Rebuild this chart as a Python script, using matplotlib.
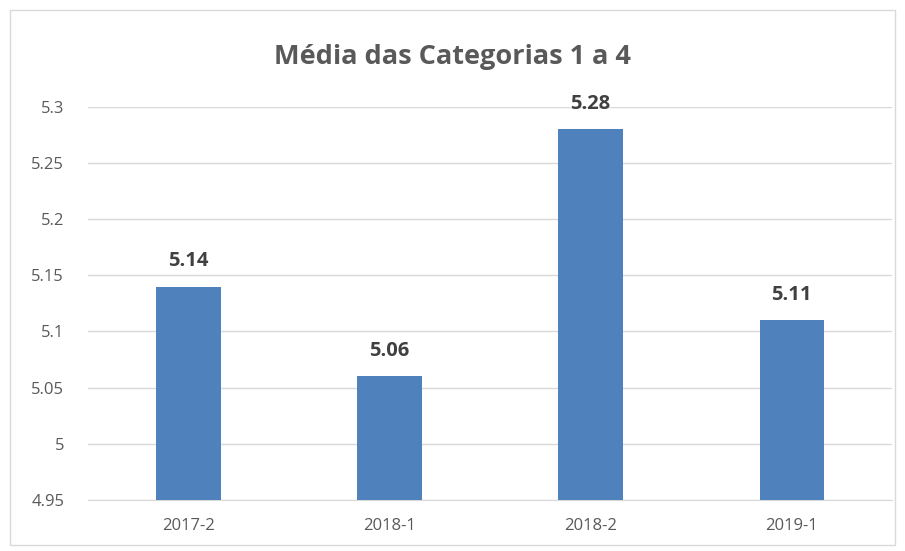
import matplotlib.pyplot as plt
from matplotlib.patches import Rectangle

periods = ["2017-2", "2018-1", "2018-2", "2019-1"]
means = [5.14, 5.06, 5.28, 5.11]
yticks = [4.95, 5.0, 5.05, 5.1, 5.15, 5.2, 5.25, 5.3]
ytick_labels = ["4.95", "5", "5.05", "5.1", "5.15", "5.2", "5.25", "5.3"]

plt.rcParams["font.family"] = ["Open Sans", "DejaVu Sans"]

fig = plt.figure(figsize=(9.05, 5.51), dpi=100)
fig.patches.append(Rectangle((0.011, 0.01), 0.978, 0.972, transform=fig.transFigure,
                             fill=False, edgecolor="#d9d9d9", linewidth=1))
ax = fig.add_axes([0.097, 0.0926, 0.889, 0.7135])

x = range(len(periods))
ax.bar(x, means, width=0.32, color="#4f81bd", zorder=3)
for i, v in zip(x, means):
    ax.text(i, v + 0.0135, f"{v:.2f}", ha="center", va="bottom",
            fontsize=14.5, fontweight="bold", color="#404040")

ax.set_ylim(4.95, 5.3)
ax.set_xlim(-0.5, len(periods) - 0.5)
ax.set_yticks(yticks)
ax.set_yticklabels(ytick_labels)
ax.set_xticks(list(x))
ax.set_xticklabels(periods)
ax.tick_params(axis="both", length=0, labelsize=12, labelcolor="#595959")
ax.tick_params(axis="y", pad=17)
ax.tick_params(axis="x", pad=13)
ax.grid(axis="y", color="#d9d9d9", linewidth=1, zorder=0)
for side in ["top", "right", "left"]:
    ax.spines[side].set_visible(False)
ax.spines["bottom"].set_color("#d9d9d9")

fig.text(0.5, 0.897, "Média das Categorias 1 a 4", ha="center", va="center",
         fontsize=19.5, fontweight="bold", color="#595959")

fig.savefig("out.png", dpi=100)
